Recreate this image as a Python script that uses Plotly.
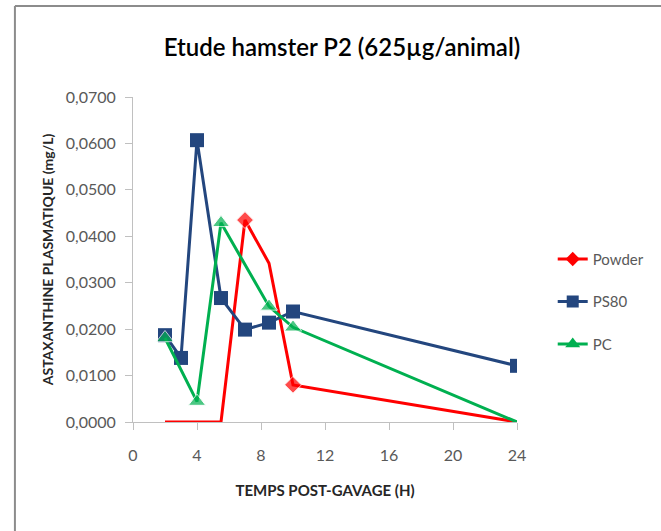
import plotly.graph_objs as go

# data
powder_t = [2, 5.5, 7, 8.5, 10, 24]
powder_c = [0.0, 0.0, 0.0435, 0.0342, 0.0080, 0.0]

ps80_t = [2, 3, 4, 5.5, 7, 8.5, 10, 24]
ps80_c = [0.0187, 0.0138, 0.0607, 0.0267, 0.0199, 0.0214, 0.0238, 0.0121]

pc_t = [2, 4, 5.5, 8.5, 10, 24]
pc_c = [0.0181, 0.0044, 0.0429, 0.0249, 0.0204, 0.0]

x_ticks = [0, 4, 8, 12, 16, 20, 24]

font_main = 'Lato, Open Sans, sans-serif'
grey_txt = '#595959'
axis_col = '#c0c0c0'

# plot area in pixels
left, top, right, bottom = 133, 97, 520, 422
W, H = 661, 531

series = [
    ('Powder', powder_t, powder_c, '#ff0000', 'diamond', [0, 0, 13, 0, 13, 0], 13),
    ('PS80', ps80_t, ps80_c, '#23467e', 'square', 14, 14),
    ('PC', pc_t, pc_c, '#00b050', 'triangle-up', [15, 15, 15, 15, 15, 0], 15),
]

fig = go.Figure()
for i, (name, t, c, col, sym, sizes, leg_size) in enumerate(series):
    # the real curve (some points drawn without marker, as in the original)
    fig.add_trace(go.Scatter(x=t, y=c, name=name, mode='lines+markers',
                             line={'color': col, 'width': 3},
                             marker={'symbol': sym, 'color': col, 'size': sizes},
                             showlegend=False))
    # legend entry with a full-size marker
    fig.add_trace(go.Scatter(x=[None], y=[None], name=name, mode='lines+markers',
                             line={'color': col, 'width': 3},
                             marker={'symbol': sym, 'color': col, 'size': leg_size - 2},
                             legendgroup=str(i)))

pw = right - left
ph = bottom - top
# outer frame of the chart (only top and left edges are visible)
fx = (14 - left) / pw
fy = (bottom - 6) / ph
fig.add_shape(type='line', xref='paper', yref='paper', x0=fx, x1=fx, y0=-1, y1=fy,
              line={'color': '#8c8c8c', 'width': 2})
fig.add_shape(type='line', xref='paper', yref='paper', x0=fx, x1=2, y0=fy, y1=fy,
              line={'color': '#8c8c8c', 'width': 2})

fig.update_layout(width=W, height=H,
                  margin={'l': left, 'r': W - right, 't': top, 'b': H - bottom},
                  paper_bgcolor='white', plot_bgcolor='white',
                  separators=', ',
                  title={'text': 'Etude hamster P2 (625µg/animal)',
                         'x': 342 / W, 'xanchor': 'center',
                         'y': 1 - 48 / H, 'yanchor': 'middle',
                         'font': {'family': font_main, 'size': 24, 'color': '#000000',
                                  'weight': 600}},
                  legend={'x': (556 - left) / pw, 'xanchor': 'left', 'y': 0.37,
                          'yanchor': 'middle',
                          'font': {'family': font_main, 'size': 15, 'color': grey_txt},
                          'tracegroupgap': 20, 'traceorder': 'grouped',
                          'bgcolor': 'rgba(0,0,0,0)'},
                  showlegend=True)

fig.update_xaxes(range=[0, 24], tickvals=x_ticks, showgrid=False, zeroline=False,
                 showline=True, linecolor=axis_col, linewidth=1,
                 ticks='outside', ticklen=7, tickcolor=axis_col, ticklabelstandoff=12,
                 tickfont={'family': font_main, 'size': 16, 'color': grey_txt},
                 title={'text': '<b>TEMPS POST-GAVAGE (H)</b>', 'standoff': 22,
                        'font': {'family': font_main, 'size': 15, 'color': '#262626'}})
fig.update_yaxes(range=[0, 0.07], dtick=0.01, tickformat='.4f', showgrid=False,
                 zeroline=False, showline=True, linecolor=axis_col, linewidth=1,
                 ticks='outside', ticklen=7, tickcolor=axis_col, ticklabelstandoff=6,
                 tickfont={'family': font_main, 'size': 16, 'color': grey_txt},
                 title={'text': '<b>ASTAXANTHINE PLASMATIQUE (mg/L)</b>', 'standoff': 8,
                        'font': {'family': font_main, 'size': 14, 'color': '#262626'}})

# drop the page's default body margin so the figure sits at the window corner
fig.write_html("out.html", config={'displayModeBar': False},
               post_script="document.body.style.margin='0';")
